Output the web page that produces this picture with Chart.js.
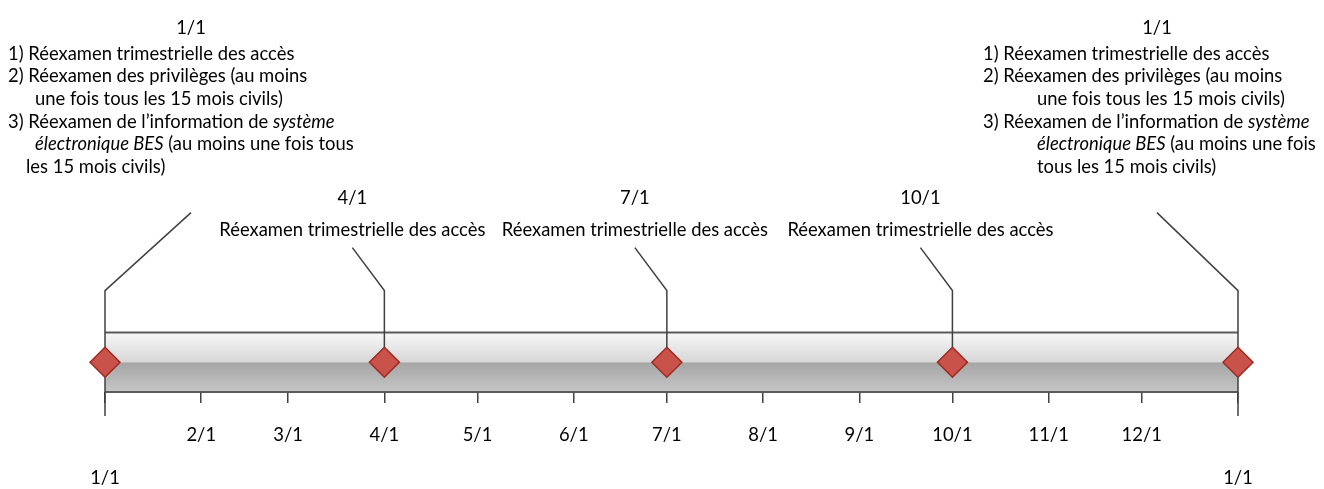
<!DOCTYPE html>
<html>
<head>
<meta charset="utf-8">
<script src="https://cdn.jsdelivr.net/npm/chart.js@4/dist/chart.umd.min.js"></script>
<style>
  html, body { margin: 0; padding: 0; background: #fff; }
  #wrap { width: 1324px; height: 489px; position: relative; }
</style>
</head>
<body>
<div id="wrap"><canvas id="timelineChart"></canvas></div>
<script>
// jours depuis le 1er janvier
const tickDays = [0, 31, 59, 90, 120, 151, 181, 212, 243, 273, 304, 334, 365];
const tickLabels = ['1/1', '2/1', '3/1', '4/1', '5/1', '6/1', '7/1', '8/1', '9/1', '10/1', '11/1', '12/1', '1/1'];

const milestoneDays = [0, 90, 181, 273, 365];
const milestoneDates = ['1/1', '4/1', '7/1', '10/1', '1/1'];

// *texte* = italique, espaces en tête = retrait
const annualNotesStart = [
    '1) Réexamen trimestrielle des accès',
    '2) Réexamen des privilèges (au moins',
    '   une fois tous les 15 mois civils)',
    '3) Réexamen de l’information de *système*',
    '   *électronique BES* (au moins une fois tous',
    '  les 15 mois civils)'
];
const annualNotesEnd = [
    '1) Réexamen trimestrielle des accès',
    '2) Réexamen des privilèges (au moins',
    '      une fois tous les 15 mois civils)',
    '3) Réexamen de l’information de *système*',
    '      *électronique BES* (au moins une fois',
    '      tous les 15 mois civils)'
];
const quarterNotes = ['Réexamen trimestrielle des accès'];
const milestoneNotes = [annualNotesStart, quarterNotes, quarterNotes, quarterNotes, annualNotesEnd];

const FONT_FAMILY = 'Lato, "Noto Sans", sans-serif';
const FONT_SIZE = 18.4;
const LINE_COLOR = '#404040';

// décalages des légendes par rapport au repère (px)
const calloutDx = [86, -32, -32, -32, -81];
const blockLeft = [-183, null, null, null, -174];

function drawRich(ctx, text, x, y) {
    const parts = text.split('*');
    parts.forEach((p, i) => {
        ctx.font = (i % 2 ? 'italic ' : '') + FONT_SIZE + 'px ' + FONT_FAMILY;
        ctx.fillText(p, x, y);
        x += ctx.measureText(p).width;
    });
}

const timelinePlugin = {
    id: 'timeline',
    beforeDatasetsDraw(chart) {
        const {ctx, scales: {x, y}} = chart;
        const left = x.getPixelForValue(tickDays[0]);
        const right = x.getPixelForValue(tickDays[tickDays.length - 1]);
        const top = y.getPixelForValue(1);
        const mid = y.getPixelForValue(0);
        const bottom = y.getPixelForValue(-1);

        ctx.save();
        // barre
        let g = ctx.createLinearGradient(0, top, 0, mid);
        g.addColorStop(0, '#f8f8f8');
        g.addColorStop(1, '#d6d6d6');
        ctx.fillStyle = g;
        ctx.fillRect(left, top, right - left, mid - top);
        g = ctx.createLinearGradient(0, mid, 0, bottom);
        g.addColorStop(0, '#a5a5a5');
        g.addColorStop(1, '#c6c6c6');
        ctx.fillStyle = g;
        ctx.fillRect(left, mid, right - left, bottom - mid);

        ctx.strokeStyle = '#5a5a5a';
        ctx.lineWidth = 2;
        ctx.beginPath();
        ctx.moveTo(left, top); ctx.lineTo(right, top);
        ctx.moveTo(left, bottom); ctx.lineTo(right, bottom);
        ctx.stroke();

        // traits de rappel
        ctx.strokeStyle = LINE_COLOR;
        ctx.lineWidth = 1.5;
        milestoneDays.forEach((d, i) => {
            const px = x.getPixelForValue(d);
            const elbow = top - 42;
            const isEnd = i === 0 || i === milestoneDays.length - 1;
            const diagTop = isEnd ? top - 120 : top - 85;
            ctx.beginPath();
            ctx.moveTo(px + calloutDx[i], diagTop);
            ctx.lineTo(px, elbow);
            ctx.lineTo(px, isEnd ? bottom + 24 : mid);
            ctx.stroke();
        });
        ctx.restore();
    },
    afterDraw(chart) {
        const {ctx, scales: {x, y}} = chart;
        const top = y.getPixelForValue(1);
        ctx.save();
        ctx.fillStyle = '#000';
        ctx.textBaseline = 'middle';
        milestoneDays.forEach((d, i) => {
            const ax = x.getPixelForValue(d) + calloutDx[i];
            const notes = milestoneNotes[i];
            ctx.font = FONT_SIZE + 'px ' + FONT_FAMILY;
            ctx.textAlign = 'center';
            if (blockLeft[i] === null) {
                ctx.fillText(milestoneDates[i], ax, top - 135);
                notes.forEach((line, k) => ctx.fillText(line, ax, top - 103 + k * 22.7));
            } else {
                ctx.fillText(milestoneDates[i], ax, top - 305);
                ctx.textAlign = 'left';
                notes.forEach((line, k) => {
                    const sp = line.match(/^ */)[0].length;
                    drawRich(ctx, line.trimStart(), ax + blockLeft[i] + sp * 9, top - 279 + k * 22.7);
                });
            }
        });
        ctx.restore();
    }
};

const ctx = document.getElementById('timelineChart').getContext('2d');
new Chart(ctx, {
    type: 'scatter',
    data: {
        datasets: [{
            label: 'Réexamens',
            data: milestoneDays.map(d => ({x: d, y: 0})),
            pointStyle: 'rectRot',
            pointRadius: 15,
            pointHoverRadius: 15,
            backgroundColor: '#c9524a',
            borderColor: '#9e2a20',
            borderWidth: 1.5,
            clip: false
        }]
    },
    options: {
        responsive: true,
        maintainAspectRatio: false,
        animation: false,
        layout: {padding: {left: 105, right: 86, top: 0, bottom: 0}},
        plugins: {
            legend: {display: false},
            tooltip: {enabled: false}
        },
        scales: {
            x: {
                type: 'linear',
                min: 0,
                max: 365,
                afterBuildTicks(scale) {
                    scale.ticks = tickDays.map(v => ({value: v}));
                },
                afterFit(scale) {
                    scale.height = 97;
                },
                border: {display: false},
                grid: {
                    drawOnChartArea: false,
                    drawTicks: true,
                    tickLength: 11,
                    color: LINE_COLOR,
                    lineWidth: 1.5
                },
                ticks: {
                    autoSkip: false,
                    maxRotation: 0,
                    padding: 21,
                    color: '#000',
                    font: {family: FONT_FAMILY, size: FONT_SIZE, lineHeight: 1.17},
                    callback(value) {
                        const i = tickDays.indexOf(value);
                        if (i === 0 || i === tickDays.length - 1) return ['', '', tickLabels[i]];
                        return tickLabels[i];
                    }
                }
            },
            y: {display: false, min: -1, max: 11.645}
        }
    },
    plugins: [timelinePlugin]
});
</script>
</body>
</html>
